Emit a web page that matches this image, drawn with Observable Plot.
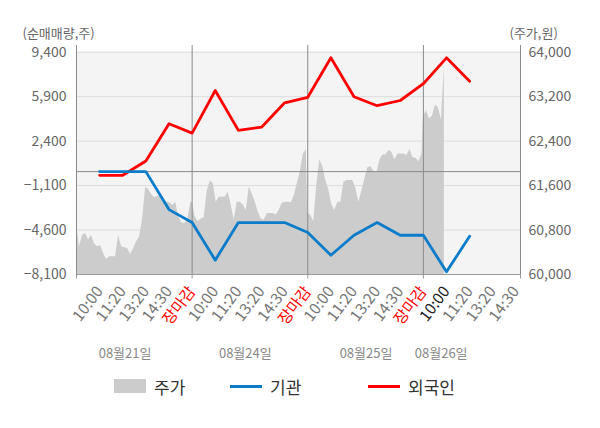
<!DOCTYPE html>
<html><head><meta charset="utf-8">
<script src="https://cdn.jsdelivr.net/npm/d3@7"></script>
<script src="https://cdn.jsdelivr.net/npm/@observablehq/plot@0.6"></script>
<style>
body{margin:0;background:#fff;font-family:"Noto Sans CJK KR","Noto Sans",sans-serif;}
#wrap{position:relative;width:600px;height:428px;overflow:hidden;}
#chart{position:absolute;left:0;top:0;}
.lg{position:absolute;top:374px;height:24px;display:flex;align-items:center;font-size:17px;color:#333;}
.sw{display:inline-block;margin-right:8px;}
</style></head><body>
<div id="wrap"><div id="chart"></div><div id="legend"></div></div>
<script>
// ---- data ----
const leftTicks = [-8100, -4600, -1100, 2400, 5900, 9400];
const rightTicks = [60000, 60800, 61600, 62400, 63200, 64000];
const timeLabels = ["10:00","11:20","13:20","14:30","장마감","10:00","11:20","13:20","14:30","장마감","10:00","11:20","13:20","14:30","장마감","10:00","11:20","13:20","14:30"];
const dateLabels = ["08월21일","08월24일","08월25일","08월26일"];
const dateAt = [2.1, 7.3, 12.52, 15.77];
const dayBounds = [0, 5, 10, 15, 19.2];
const foreign = [-290, -290, 840, 3770, 3030, 6390, 3250, 3500, 5420, 5850, 8960, 5900, 5190, 5600, 6920, 8960, 7120];
const institution = [0, 0, 0, -2990, -4010, -6970, -4010, -4010, -4010, -4800, -6580, -5010, -4010, -5010, -5010, -7890, -5090];
const priceDay1 = [60920,60500,60700,60740,60620,60700,60550,60500,60520,60380,60270,60320,60320,60320,60700,60500,60480,60470,60360,60470,60590,60680,61000,61570,61530,61440,61380,61410,61390,61350,61300,61290,61240,61300,61040,60930,60920,60980,61300];
const priceDay2 = [61300,61040,60950,61000,61020,61500,61680,61640,61300,61390,61390,61390,61480,61250,60980,61300,61300,61250,61150,61570,61450,61300,61120,61000,60980,61100,61100,61100,61070,61160,61280,61300,61300,61290,61420,61640,61850,62170,62250];
const priceDay3 = [61100,61070,60950,61600,62060,61950,61690,61520,61260,61150,61300,61300,61660,61690,61690,61690,61550,61300,61500,61720,61920,61940,61860,61830,62060,62150,62150,62230,62200,62060,62170,62170,62170,62140,62250,62100,62090,62030,62170];
const priceDay4 = [62830,62950,62800,62850,63050,63000,62780,63760];

// ---- derived tables ----
const toLeft = p => -8100 + (p - 60000) * 17500 / 4000;
const priceRows = [priceDay1, priceDay2, priceDay3, priceDay4]
  .flatMap((arr, d) => arr.map((p, i) => ({k: d * 5 + i * 0.13, v: toLeft(p)})));
const fRows = foreign.map((v, i) => ({k: i + 1, v}));
const iRows = institution.map((v, i) => ({k: i + 1, v}));
const tickRows = timeLabels.map((t, i) => ({k: i + 1, t}));
const dateRows = dateLabels.map((t, i) => ({k: dateAt[i], t}));

const font = '"Noto Sans CJK KR","Noto Sans",sans-serif';
const tickOpts = {x: "k", y: -8100, text: "t", rotate: -53, textAnchor: "end", lineAnchor: "middle", dy: 14, dx: 0, fontSize: 15.5};
const chart = Plot.plot({
  width: 600, height: 368,
  marginTop: 45, marginBottom: 94, marginLeft: 76, marginRight: 80,
  style: {fontFamily: font, background: "transparent"},
  x: {domain: [0, 19.2], axis: null},
  y: {domain: [-8100, 9930], axis: null},
  marks: [
    Plot.rect([0], {x1: 0, x2: 19.2, y1: -8100, y2: 9400, fill: "#f4f4f4"}),
    Plot.ruleY(leftTicks.slice(1), {stroke: "#dcdcdc", strokeWidth: 1}),
    Plot.areaY(priceRows, {x: "k", y1: -8100, y2: "v", fill: "#cccccc", curve: "linear"}),
    Plot.ruleY([0], {stroke: "#8a8a8a", strokeWidth: 1}),
    Plot.ruleX(dayBounds, {stroke: "#8a8a8a", strokeWidth: 1}),
    Plot.ruleY([-8100], {stroke: "#9a9a9a", strokeWidth: 1}),
    Plot.ruleX(dayBounds, {y1: -8100, y2: -8450, stroke: "#9a9a9a"}),
    Plot.line(fRows, {x: "k", y: "v", stroke: "#ff0000", strokeWidth: 2.8}),
    Plot.line(iRows, {x: "k", y: "v", stroke: "#0a7cc9", strokeWidth: 2.8}),
    Plot.axisY({anchor: "left", ticks: leftTicks, tickSize: 0, tickPadding: 10, tickFormat: d3.format(","), fontSize: 14, color: "#666", label: null}),
    Plot.axisY({anchor: "right", ticks: leftTicks, tickSize: 0, tickPadding: 8, tickFormat: d => d3.format(",")(rightTicks[leftTicks.indexOf(d)]), fontSize: 14, color: "#666", label: null}),
    Plot.text(tickRows.filter(d => d.t !== "장마감" && d.k !== 16), {...tickOpts, fill: "#777"}),
    Plot.text(tickRows.filter(d => d.t === "장마감"), {...tickOpts, fill: "#ff0000"}),
    Plot.text(tickRows.filter(d => d.k === 16), {...tickOpts, fill: "#222"}),
    Plot.text(dateRows, {x: "k", y: -8100, text: "t", dy: 79, fontSize: 13, fill: "#888"}),
    Plot.text(["(순매매량,주)"], {frameAnchor: "top-left", textAnchor: "start", lineAnchor: "middle", dx: -54, dy: -12, fontSize: 13, fill: "#666"}),
    Plot.text(["(주가,원)"], {frameAnchor: "top-right", textAnchor: "start", lineAnchor: "middle", dx: -11, dy: -12, fontSize: 13, fill: "#666"})
  ]
});
document.getElementById("chart").appendChild(chart);

// legend
const legendItems = [
  {name: "주가", kind: "box", color: "#cccccc", left: 114},
  {name: "기관", kind: "line", color: "#0a7cc9", left: 230},
  {name: "외국인", kind: "line", color: "#ff0000", left: 368}
];
const lg = document.getElementById("legend");
legendItems.forEach(it => {
  const d = document.createElement("div");
  d.className = "lg";
  d.style.left = it.left + "px";
  const s = document.createElement("span");
  s.className = "sw";
  s.style.width = "32px";
  s.style.height = it.kind === "box" ? "14px" : "3px";
  s.style.background = it.color;
  d.appendChild(s);
  const t = document.createElement("span");
  t.textContent = it.name;
  d.appendChild(t);
  lg.appendChild(d);
});
</script>
</body></html>
